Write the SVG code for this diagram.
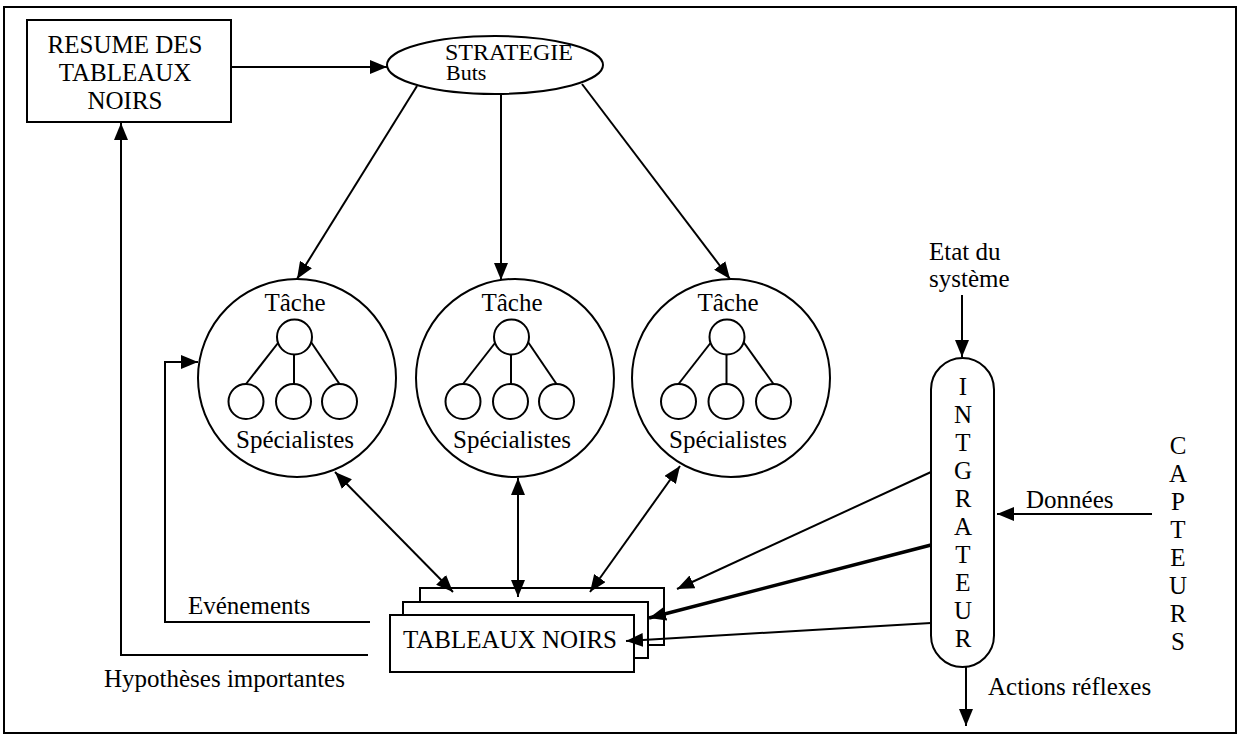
<svg xmlns="http://www.w3.org/2000/svg" width="1240" height="736" viewBox="0 0 1240 736">
<style>
text{font-family:"Liberation Serif","Times New Roman",serif;font-size:25px;fill:#000}
.s{fill:none;stroke:#000;stroke-width:2}
.w{fill:#fff;stroke:#000;stroke-width:2}
.c{stroke:#000;stroke-width:2;fill:none}
.m{text-anchor:middle}
</style>
<defs>
<marker id="a" markerUnits="userSpaceOnUse" markerWidth="17" markerHeight="14" refX="17" refY="7" orient="auto-start-reverse" viewBox="0 0 17 14">
<path d="M0,0 L17,7 L0,14 z" fill="#000"/>
</marker>
</defs>
<rect x="4" y="7" width="1232" height="726" class="s"/>

<g id="resume">
<rect x="27" y="20" width="204" height="102" class="w"/>
<text x="125" y="53" class="m">RESUME DES</text>
<text x="125" y="81" class="m">TABLEAUX</text>
<text x="125" y="108.5" class="m">NOIRS</text>
</g>

<g id="strategie">
<ellipse cx="495" cy="65" rx="108" ry="29" class="w"/>
<text x="445" y="60" style="font-size:24px">STRATEGIE</text>
<text x="446" y="80" style="font-size:22px">Buts</text>
</g>

<g id="tache1">
<circle cx="297" cy="378" r="99" class="w"/>
<text x="295" y="310.5" class="m">Tâche</text>
<circle cx="294.5" cy="337" r="17.5" class="s"/>
<circle cx="246" cy="401.5" r="17.5" class="s"/>
<circle cx="293.5" cy="401.5" r="17.5" class="s"/>
<circle cx="339.5" cy="401.5" r="17.5" class="s"/>
<line x1="278" y1="343" x2="246" y2="384" class="s"/>
<line x1="294" y1="354.5" x2="294" y2="384" class="s"/>
<line x1="311" y1="342" x2="339.5" y2="384" class="s"/>
<text x="295" y="448" class="m">Spécialistes</text>
</g>

<g id="tache2">
<circle cx="515" cy="378" r="99" class="w"/>
<text x="512" y="310.5" class="m">Tâche</text>
<circle cx="511.5" cy="337" r="17.5" class="s"/>
<circle cx="463" cy="401.5" r="17.5" class="s"/>
<circle cx="510.5" cy="401.5" r="17.5" class="s"/>
<circle cx="556.5" cy="401.5" r="17.5" class="s"/>
<line x1="495" y1="343" x2="463" y2="384" class="s"/>
<line x1="511" y1="354.5" x2="511" y2="384" class="s"/>
<line x1="528" y1="342" x2="556.5" y2="384" class="s"/>
<text x="512" y="448" class="m">Spécialistes</text>
</g>

<g id="tache3">
<circle cx="731" cy="378" r="99" class="w"/>
<text x="728" y="310.5" class="m">Tâche</text>
<circle cx="727" cy="337" r="17.5" class="s"/>
<circle cx="678.5" cy="401.5" r="17.5" class="s"/>
<circle cx="726" cy="401.5" r="17.5" class="s"/>
<circle cx="773.5" cy="401.5" r="17.5" class="s"/>
<line x1="710.5" y1="343" x2="678.5" y2="384" class="s"/>
<line x1="726.5" y1="354.5" x2="726.5" y2="384" class="s"/>
<line x1="743.5" y1="342" x2="773.5" y2="384" class="s"/>
<text x="728" y="448" class="m">Spécialistes</text>
</g>

<g id="tableaux">
<rect x="420" y="588" width="244" height="57" class="w"/>
<rect x="403" y="602" width="245" height="56" class="w"/>
<rect x="390" y="615" width="244" height="57" class="w"/>
<text x="510" y="648" class="m">TABLEAUX NOIRS</text>
</g>

<g id="integrateur">
<rect x="931" y="358" width="63" height="309" rx="31.5" class="w"/>
<text x="963" y="395" class="m">I</text>
<text x="963" y="423" class="m">N</text>
<text x="963" y="451" class="m">T</text>
<text x="963" y="479" class="m">G</text>
<text x="963" y="507" class="m">R</text>
<text x="963" y="535" class="m">A</text>
<text x="963" y="563" class="m">T</text>
<text x="963" y="591" class="m">E</text>
<text x="963" y="619" class="m">U</text>
<text x="963" y="647" class="m">R</text>
</g>

<g id="capteurs">
<text x="1178" y="454" class="m">C</text>
<text x="1178" y="482" class="m">A</text>
<text x="1178" y="510" class="m">P</text>
<text x="1178" y="538" class="m">T</text>
<text x="1178" y="566" class="m">E</text>
<text x="1178" y="594" class="m">U</text>
<text x="1178" y="622" class="m">R</text>
<text x="1178" y="650" class="m">S</text>
</g>

<g id="labels">
<text x="929" y="260">Etat du</text>
<text x="929" y="287">système</text>
<text x="1026" y="508">Données</text>
<text x="988" y="695">Actions réflexes</text>
<text x="188" y="614">Evénements</text>
<text x="104" y="687">Hypothèses importantes</text>
</g>

<g id="connectors">
<line x1="231" y1="67" x2="387" y2="67" class="c" marker-end="url(#a)"/>
<line x1="417" y1="86" x2="297" y2="279" class="c" marker-end="url(#a)"/>
<line x1="501" y1="94" x2="501" y2="280" class="c" marker-end="url(#a)"/>
<line x1="582" y1="84" x2="730" y2="279" class="c" marker-end="url(#a)"/>
<line x1="335" y1="472" x2="453" y2="592" class="c" marker-start="url(#a)" marker-end="url(#a)"/>
<line x1="518" y1="478" x2="518" y2="597" class="c" marker-start="url(#a)" marker-end="url(#a)"/>
<line x1="680" y1="466" x2="590" y2="592" class="c" marker-start="url(#a)" marker-end="url(#a)"/>
<line x1="962" y1="295" x2="962" y2="357" class="c" marker-end="url(#a)"/>
<line x1="1152" y1="514" x2="997" y2="514" class="c" marker-end="url(#a)"/>
<line x1="931" y1="472" x2="677" y2="589" class="c" marker-end="url(#a)"/>
<line x1="931" y1="545" x2="649" y2="618" class="c" style="stroke-width:3.5" marker-end="url(#a)"/>
<line x1="931" y1="623" x2="626" y2="641" class="c" marker-end="url(#a)"/>
<line x1="966" y1="667" x2="966" y2="726" class="c" marker-end="url(#a)"/>
<polyline points="370,622 165,622 165,362 198,362" class="c" marker-end="url(#a)"/>
<polyline points="368,655 121,655 121,123" class="c" marker-end="url(#a)"/>
</g>
</svg>
